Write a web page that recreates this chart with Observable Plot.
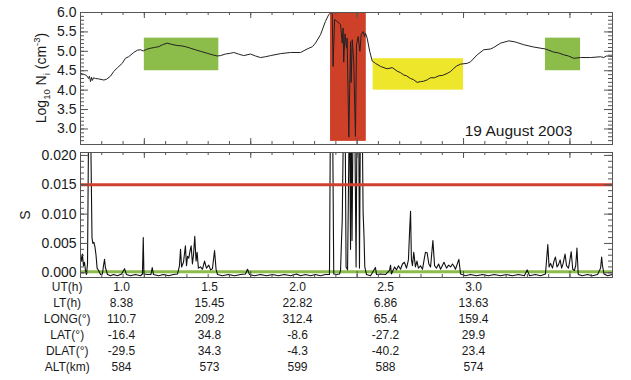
<!DOCTYPE html>
<html><head><meta charset="utf-8">
<script src="https://cdn.jsdelivr.net/npm/d3@7"></script>
<script src="https://cdn.jsdelivr.net/npm/@observablehq/plot@0.6"></script>
<style>
body{margin:0;background:#fff;}
#chart{width:631px;height:380px;overflow:hidden;background:#fff;}
#chart svg{display:block;}
</style></head><body><div id="chart"></div>
<script>
// ---- Top panel: Log10 Ni vs UT (hours)
const nUT = [0.700,0.709,0.719,0.728,0.738,0.742,0.747,0.752,0.756,0.761,0.770,0.785,0.810,0.822,0.841,0.856,0.874,0.896,0.911,0.926,0.950,0.968,0.982,0.995,1.010,1.029,1.048,1.068,1.085,1.107,1.128,1.154,1.175,1.193,1.217,1.240,1.264,1.295,1.320,1.342,1.358,1.381,1.405,1.420,1.442,1.467,1.499,1.522,1.546,1.569,1.593,1.640,1.687,1.734,1.765,1.790,1.804,1.828,1.851,1.867,1.878,1.883,1.887,1.894,1.906,1.922,1.930,1.934,1.937,1.943,1.950,1.953,1.961,1.969,1.972,1.977,1.984,1.992,1.997,2.005,2.013,2.019,2.028,2.035,2.039,2.047,2.059,2.071,2.086,2.110,2.141,2.165,2.188,2.204,2.219,2.232,2.251,2.265,2.282,2.298,2.313,2.331,2.345,2.364,2.384,2.401,2.423,2.439,2.454,2.467,2.486,2.517,2.533,2.564,2.595,2.627,2.642,2.674,2.713,2.744,2.783,2.830,2.885,2.924,2.946,2.971,2.993,3.018,3.049,3.097,3.144,3.159,3.171,3.199];
const nLog = [4.43,4.42,4.40,4.38,4.30,4.36,4.22,4.33,4.25,4.32,4.30,4.29,4.26,4.28,4.36,4.48,4.58,4.69,4.82,4.86,4.97,5.03,5.04,5.01,5.05,5.08,5.10,5.12,5.17,5.21,5.18,5.15,5.14,5.12,5.08,5.04,5.00,4.95,4.91,4.88,4.89,4.93,4.95,4.97,4.93,4.89,4.93,4.88,4.84,4.86,4.89,4.94,4.97,4.97,5.06,5.12,5.21,5.43,5.77,5.95,6.00,5.97,4.61,5.82,5.77,5.69,5.21,5.60,4.72,5.45,5.08,5.34,2.79,5.25,4.20,5.30,4.74,2.81,5.17,5.38,5.00,5.43,5.51,5.38,5.47,5.34,5.00,4.75,4.69,4.61,4.55,4.58,4.49,4.45,4.39,4.37,4.30,4.27,4.20,4.22,4.23,4.27,4.32,4.32,4.37,4.38,4.43,4.48,4.56,4.62,4.67,4.69,4.73,4.91,5.04,5.06,5.10,5.21,5.27,5.24,5.17,5.11,5.06,4.98,4.96,4.91,4.88,4.82,4.84,4.84,4.86,4.84,4.88,4.87];

// highlighted intervals
const boxStart = [1.00, 1.875, 2.075, 2.885];
const boxEnd   = [1.35, 2.043, 2.500, 3.050];
const boxLow   = [4.50, 2.68, 4.00, 4.50];
const boxHigh  = [5.34, 6.00, 4.81, 5.34];
const boxColor = ["#8cbd4a", "#cf4029", "#eee62a", "#8cbd4a"];

// ---- Bottom panel: S vs UT
const sUT = [0.700,0.705,0.709,0.714,0.719,0.723,0.728,0.733,0.738,0.745,0.749,0.754,0.758,0.763,0.768,0.773,0.778,0.785,0.794,0.803,0.808,0.813,0.817,0.827,0.841,0.855,0.874,0.893,0.907,0.916,0.935,0.958,0.982,0.991,0.995,0.998,1.015,1.031,1.037,1.043,1.067,1.090,1.114,1.137,1.156,1.165,1.170,1.175,1.184,1.193,1.198,1.203,1.209,1.214,1.220,1.226,1.231,1.237,1.243,1.248,1.254,1.264,1.273,1.283,1.292,1.303,1.311,1.320,1.330,1.337,1.344,1.367,1.395,1.424,1.452,1.475,1.485,1.494,1.518,1.546,1.574,1.602,1.630,1.659,1.687,1.715,1.734,1.757,1.781,1.804,1.828,1.851,1.870,1.875,1.884,1.890,1.903,1.917,1.922,1.927,1.930,1.937,1.943,1.948,1.955,1.964,1.969,1.972,1.976,1.982,1.988,1.995,2.000,2.007,2.011,2.016,2.023,2.028,2.032,2.036,2.044,2.063,2.086,2.091,2.110,2.133,2.152,2.157,2.161,2.176,2.185,2.194,2.204,2.213,2.222,2.232,2.241,2.246,2.251,2.255,2.260,2.266,2.274,2.281,2.288,2.298,2.307,2.316,2.321,2.329,2.337,2.345,2.356,2.364,2.373,2.383,2.392,2.408,2.420,2.430,2.439,2.448,2.454,2.462,2.478,2.486,2.509,2.533,2.561,2.589,2.617,2.645,2.674,2.702,2.730,2.758,2.786,2.799,2.810,2.838,2.862,2.885,2.896,2.902,2.909,2.918,2.925,2.932,2.939,2.946,2.954,2.961,2.968,2.977,2.984,2.993,2.999,3.006,3.013,3.021,3.027,3.033,3.039,3.058,3.083,3.106,3.130,3.144,3.149,3.153,3.160,3.177,3.199];
const sVal = [0.0030,0.0020,0.0032,0.0012,0.0018,0.0005,-0.0003,0.0015,0.0250,0.0260,0.0210,0.0060,0.0050,0.0052,0.0044,0.0030,0.0008,0.0004,-0.0003,-0.0002,0.0012,0.0023,0.0009,-0.0003,-0.0005,-0.0003,-0.0005,-0.0002,0.0007,-0.0003,-0.0005,-0.0003,-0.0005,-0.0002,0.0060,-0.0002,-0.0003,-0.0003,0.0009,-0.0003,-0.0005,-0.0003,-0.0005,-0.0003,-0.0002,0.0012,0.0040,0.0010,0.0018,0.0046,0.0012,0.0028,0.0025,0.0036,0.0046,0.0015,0.0030,0.0062,0.0020,0.0035,0.0008,0.0010,0.0006,0.0020,0.0008,0.0013,0.0005,0.0007,0.0038,0.0006,-0.0003,-0.0005,-0.0003,-0.0005,-0.0003,-0.0002,0.0006,-0.0003,-0.0005,-0.0003,-0.0005,-0.0003,-0.0005,-0.0003,-0.0005,-0.0002,-0.0005,-0.0003,-0.0005,-0.0003,-0.0005,-0.0003,-0.0003,0.0300,0.0300,-0.0002,-0.0003,-0.0002,0.0004,0.0060,0.0089,0.0300,0.0300,0.0010,0.0005,0.0300,0.0040,0.0300,0.0055,0.0300,0.0300,0.0010,0.0300,0.0300,0.0008,0.0300,0.0300,0.0103,0.0066,0.0010,-0.0003,-0.0005,0.0009,-0.0003,-0.0002,-0.0003,0.0004,0.0013,-0.0002,0.0010,0.0005,0.0012,0.0006,0.0015,0.0018,0.0008,0.0022,0.0067,0.0105,0.0023,0.0012,0.0035,0.0010,0.0020,0.0008,0.0012,0.0006,0.0025,0.0035,0.0034,0.0015,0.0010,0.0055,0.0012,0.0008,0.0015,0.0006,0.0018,0.0008,0.0013,0.0010,0.0015,0.0012,0.0006,0.0023,-0.0002,-0.0005,-0.0003,-0.0005,-0.0003,-0.0005,-0.0003,-0.0005,-0.0003,-0.0005,-0.0003,-0.0005,0.0005,-0.0005,-0.0003,-0.0005,-0.0002,0.0048,0.0010,0.0016,0.0008,0.0020,0.0027,0.0010,0.0014,0.0022,0.0008,0.0016,0.0032,0.0012,0.0008,0.0020,0.0036,0.0006,0.0004,0.0012,0.0042,-0.0003,-0.0005,-0.0003,-0.0005,-0.0003,0.0008,0.0027,0.0012,-0.0002,-0.0005,-0.0003];
const redThreshold = [0.015];
const greenThreshold = [0.0002];

// ---- Axis ticks
const xMajor = [1.0, 1.5, 2.0, 2.5, 3.0];
const xMinor = d3.range(7, 33).map(d => d / 10);
const nMajor = [3.0, 3.5, 4.0, 4.5, 5.0, 5.5, 6.0];
const nMinor = d3.range(26, 61).map(d => d / 10);
const sMajor = [0.000, 0.005, 0.010, 0.015, 0.020];
const sMinor = d3.range(0, 21).map(d => d / 1000);

// ---- Table under the plot
const colLabels = ["1.0", "1.5", "2.0", "2.5", "3.0"];
const rowLabels = ["UT(h)", "LT(h)", "LONG(°)", "LAT(°)", "DLAT(°)", "ALT(km)"];
const rowUT   = ["1.0", "1.5", "2.0", "2.5", "3.0"];
const rowLT   = ["8.38", "15.45", "22.82", "6.86", "13.63"];
const rowLONG = ["110.7", "209.2", "312.4", "65.4", "159.4"];
const rowLAT  = ["-16.4", "34.8", "-8.6", "-27.2", "29.9"];
const rowDLAT = ["-29.5", "34.3", "-4.3", "-40.2", "23.4"];
const rowALT  = ["584", "573", "599", "588", "574"];

const W = 631, ML = 80, MR = 19;
const frameW = W - ML - MR;
const font = "'Liberation Sans', Arial, Helvetica, sans-serif";
const ink = "#1a1a1a";
const frameInk = "#555";

function tickMarks(xMin, xMaj, yMin, yMaj, frameH) {
  return [
    Plot.ruleY(yMin, {y: d => d, insetRight: frameW - 4, stroke: frameInk}),
    Plot.ruleY(yMaj, {y: d => d, insetRight: frameW - 8, stroke: frameInk}),
    Plot.ruleY(yMin, {y: d => d, insetLeft: frameW - 4, stroke: frameInk}),
    Plot.ruleY(yMaj, {y: d => d, insetLeft: frameW - 8, stroke: frameInk}),
    Plot.ruleX(xMin, {x: d => d, insetBottom: frameH - 3, stroke: frameInk}),
    Plot.ruleX(xMaj, {x: d => d, insetBottom: frameH - 6, stroke: frameInk}),
    Plot.ruleX(xMin, {x: d => d, insetTop: frameH - 3, stroke: frameInk}),
    Plot.ruleX(xMaj, {x: d => d, insetTop: frameH - 6, stroke: frameInk})
  ];
}

const nRows = nUT.map((t, i) => ({t, v: nLog[i]}));
const boxes = boxStart.map((s, i) => ({s, e: boxEnd[i], lo: boxLow[i], hi: boxHigh[i], c: boxColor[i]}));

const topH = 148, topMT = 12, topMB = 4;
const topPlot = Plot.plot({
  width: W, height: topH, marginLeft: ML, marginRight: MR, marginTop: topMT, marginBottom: topMB,
  x: {domain: [0.7, 3.2], axis: null},
  y: {domain: [2.6, 6.0]},
  color: {type: "identity"},
  style: {fontFamily: font, fontSize: "14px", color: ink, background: "white", overflow: "visible"},
  marks: [
    Plot.rect(boxes, {x1: "s", x2: "e", y1: "lo", y2: "hi", fill: "c"}),
    Plot.line(nRows, {x: "t", y: "v", stroke: "#222", strokeWidth: 1, clip: true}),
    ...tickMarks(xMinor, xMajor, nMinor, nMajor, topH - topMT - topMB),
    Plot.frame({stroke: frameInk}),
    Plot.axisY(nMajor, {anchor: "left", tickSize: 0, tickPadding: 4, tickFormat: d3.format(".1f"), label: null, fill: ink}),
    Plot.text(["19 August 2003"], {frameAnchor: "bottom-right", dx: -40, dy: -9, textAnchor: "end", lineAnchor: "bottom", fontSize: 15.5, fill: ink})
  ]
});

const sRows = sUT.map((t, i) => ({t, v: sVal[i]}));
const botH = 131, botMT = 4, botMB = 2;
const botPlot = Plot.plot({
  width: W, height: botH, marginLeft: ML, marginRight: MR, marginTop: botMT, marginBottom: botMB,
  x: {domain: [0.7, 3.2], axis: null},
  y: {domain: [-0.0008, 0.0205]},
  style: {fontFamily: font, fontSize: "14px", color: ink, background: "white", overflow: "visible"},
  marks: [
    Plot.ruleY(greenThreshold, {y: d => d, stroke: "#8cbd4a", strokeWidth: 3}),
    Plot.line(sRows, {x: "t", y: "v", stroke: "#111", strokeWidth: 1.1, clip: true}),
    Plot.ruleY(redThreshold, {y: d => d, stroke: "#d0402e", strokeWidth: 3}),
    ...tickMarks(xMinor, xMajor, sMinor, sMajor, botH - botMT - botMB),
    Plot.frame({stroke: frameInk}),
    Plot.axisY(sMajor, {anchor: "left", tickSize: 0, tickPadding: 4, tickFormat: d3.format(".3f"), label: null, fill: ink})
  ]
});

const rowsData = [rowUT, rowLT, rowLONG, rowLAT, rowDLAT, rowALT];
const cells = [];
rowsData.forEach((vals, r) => vals.forEach((v, c) => cells.push({row: rowLabels[r], col: colLabels[c], v})));
const tabPlot = Plot.plot({
  width: W, height: 101, marginLeft: 120.7, marginRight: 158.3, marginTop: 8, marginBottom: 12.7,
  x: {type: "point", domain: colLabels, padding: 0, axis: null},
  y: {type: "point", domain: rowLabels, padding: 0, axis: null},
  style: {fontFamily: font, fontSize: "12px", color: ink, background: "white", overflow: "visible"},
  marks: [
    Plot.text(cells, {x: "col", y: "row", text: "v", fontSize: 12, fill: ink, textAnchor: "middle"}),
    Plot.text(rowLabels, {y: d => d, frameAnchor: "left", dx: -54, fontSize: 12, fill: ink, textAnchor: "middle"})
  ]
});

// rotated axis titles with sub/superscripts
const yl = d3.select(topPlot).append("text")
  .attr("transform", "translate(46,78) rotate(-90)")
  .attr("text-anchor", "middle").attr("font-size", 14).attr("fill", ink).attr("font-family", font);
yl.append("tspan").text("Log");
yl.append("tspan").attr("font-size", 9.5).attr("dy", 4).text("10");
yl.append("tspan").attr("dy", -4).text(" N");
yl.append("tspan").attr("font-size", 9.5).attr("dy", 4).text("i");
yl.append("tspan").attr("dy", -4).text(" (cm");
yl.append("tspan").attr("font-size", 9.5).attr("dy", -6).text("-3");
yl.append("tspan").attr("dy", 6).text(")");

d3.select(botPlot).append("text")
  .attr("transform", "translate(30,67) rotate(-90)")
  .attr("text-anchor", "middle").attr("font-size", 14).attr("fill", ink).attr("font-family", font)
  .text("S");

const chart = document.getElementById("chart");
chart.append(topPlot, botPlot, tabPlot);
</script>
</body></html>
